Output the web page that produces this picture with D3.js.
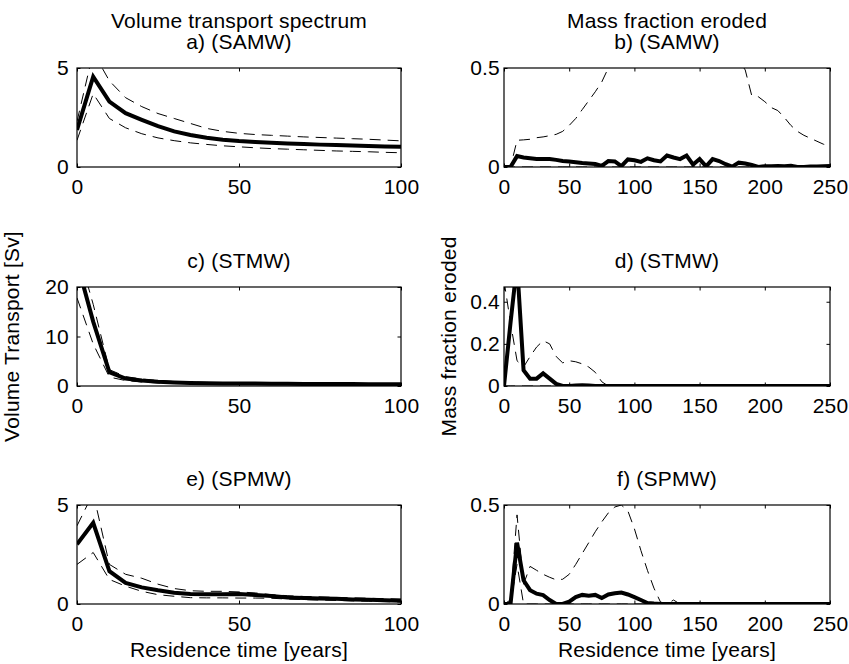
<!DOCTYPE html>
<html>
<head>
<meta charset="utf-8">
<style>
  body { margin: 0; background: #fff; }
  svg text { font-family: "Liberation Sans", Arial, Helvetica, sans-serif; font-size: 21px; fill: #000; letter-spacing: 0.2px; }
</style>
</head>
<body>
<div id="chart"></div>
<script src="https://d3js.org/d3.v7.min.js"></script>
<script>
// residence time (years)
const yearsShort = [0, 5, 10, 15, 20, 25, 30, 35, 40, 45, 50, 55, 60, 65, 70, 75, 80, 85, 90, 95, 100];
const yearsLong = [0, 5, 10, 15, 20, 25, 30, 35, 40, 45, 50, 55, 60, 65, 70, 75, 80, 85, 90, 95,
  100, 105, 110, 115, 120, 125, 130, 135, 140, 145, 150, 155, 160, 165, 170, 175, 180, 185, 190, 195,
  200, 205, 210, 215, 220, 225, 230, 235, 240, 245, 250];

// a) SAMW volume transport [Sv]
const samwTransport = [1.87, 4.56, 3.3, 2.72, 2.38, 2.06, 1.8, 1.62, 1.48, 1.38, 1.31, 1.26, 1.22, 1.19, 1.16, 1.13, 1.11, 1.09, 1.06, 1.04, 1.02];
const samwTransportHi = [2.3, 5.8, 4.35, 3.5, 3.05, 2.7, 2.45, 2.2, 1.95, 1.8, 1.7, 1.64, 1.6, 1.56, 1.52, 1.49, 1.46, 1.43, 1.4, 1.36, 1.32];
const samwTransportLo = [1.35, 3.7, 2.45, 1.98, 1.68, 1.47, 1.33, 1.22, 1.14, 1.07, 1.02, 0.97, 0.93, 0.9, 0.87, 0.84, 0.81, 0.79, 0.77, 0.74, 0.72];

// c) STMW volume transport [Sv]
const stmwTransport = [25, 13, 2.8, 1.5, 1.1, 0.85, 0.7, 0.62, 0.57, 0.53, 0.5, 0.48, 0.46, 0.44, 0.42, 0.41, 0.4, 0.38, 0.37, 0.36, 0.35];
const stmwTransportHi = [28, 16.5, 3.3, 1.9, 1.4, 1.1, 0.9, 0.8, 0.72, 0.67, 0.63, 0.6, 0.57, 0.55, 0.53, 0.51, 0.5, 0.48, 0.47, 0.46, 0.45];
const stmwTransportLo = [17.8, 8.5, 1.8, 1.1, 0.8, 0.62, 0.52, 0.46, 0.42, 0.39, 0.37, 0.35, 0.33, 0.32, 0.3, 0.29, 0.28, 0.27, 0.26, 0.25, 0.24];

// e) SPMW volume transport [Sv]
const spmwTransport = [3.02, 4.1, 1.66, 1.07, 0.84, 0.69, 0.57, 0.51, 0.49, 0.49, 0.5, 0.46, 0.4, 0.33, 0.3, 0.28, 0.26, 0.23, 0.21, 0.19, 0.17];
const spmwTransportHi = [3.95, 5.6, 2.0, 1.5, 1.3, 1.0, 0.78, 0.67, 0.64, 0.64, 0.61, 0.56, 0.47, 0.42, 0.38, 0.36, 0.33, 0.31, 0.29, 0.27, 0.25];
const spmwTransportLo = [2.0, 2.6, 1.24, 0.9, 0.64, 0.47, 0.39, 0.32, 0.31, 0.31, 0.3, 0.3, 0.29, 0.25, 0.22, 0.2, 0.18, 0.16, 0.14, 0.12, 0.1];

// b) SAMW mass fraction eroded
const samwEroded = [0, 0, 0.055, 0.048, 0.044, 0.04, 0.04, 0.04, 0.036, 0.03,
  0.028, 0.024, 0.02, 0.018, 0.015, 0.006, 0.03, 0.028, 0.004, 0.038,
  0.034, 0.026, 0.044, 0.034, 0.028, 0.058, 0.048, 0.04, 0.058, 0.012,
  0.04, 0.003, 0.04, 0.03, 0.014, 0.002, 0.022, 0.018, 0.01, 0,
  0.004, 0.004, 0.005, 0.004, 0.006, 0, 0, 0.002, 0.003, 0.004, 0.005];
const samwErodedHi = [0, 0, 0.135, 0.137, 0.14, 0.148, 0.152, 0.158, 0.165, 0.18,
  0.21, 0.245, 0.29, 0.335, 0.38, 0.43, 0.5, 0.58, 0.65, 0.7,
  0.74, 0.76, 0.78, 0.78, 0.77, 0.76, 0.74, 0.72, 0.7, 0.68,
  0.66, 0.64, 0.62, 0.6, 0.58, 0.56, 0.54, 0.49, 0.36, 0.355,
  0.33, 0.3, 0.285, 0.25, 0.21, 0.18, 0.16, 0.145, 0.13, 0.115, 0.105];
const samwErodedLo = [0, 0, 0, 0, 0, 0, 0, 0, 0, 0, 0, 0, 0, 0, 0, 0, 0, 0, 0, 0,
  0, 0, 0, 0, 0, 0, 0, 0, 0, 0, 0, 0, 0, 0, 0, 0, 0, 0, 0, 0,
  0, 0, 0, 0, 0, 0, 0, 0, 0, 0, 0];

// d) STMW mass fraction eroded
const stmwEroded = [0, 0.3, 0.58, 0.075, 0.035, 0.035, 0.06, 0.035, 0.01, 0,
  0, 0.002, 0.004, 0.002, 0, 0, 0, 0, 0, 0,
  0, 0, 0, 0, 0, 0, 0, 0, 0, 0, 0, 0, 0, 0, 0, 0, 0, 0, 0, 0,
  0, 0, 0, 0, 0, 0, 0, 0, 0, 0, 0];
const stmwErodedHi = [0.5, 0.3, 0.12, 0.09, 0.14, 0.185, 0.215, 0.2, 0.14, 0.11,
  0.12, 0.115, 0.105, 0.09, 0.065, 0.02, 0, 0, 0, 0,
  0, 0, 0, 0, 0, 0, 0, 0, 0, 0, 0, 0, 0, 0, 0, 0, 0, 0, 0, 0,
  0, 0, 0, 0, 0, 0, 0, 0, 0, 0, 0];
const stmwErodedLo = samwErodedLo.slice();

// f) SPMW mass fraction eroded
const spmwEroded = [0, 0, 0.31, 0.12, 0.07, 0.052, 0.045, 0.02, 0, 0,
  0.012, 0.035, 0.046, 0.042, 0.046, 0.03, 0.048, 0.054, 0.058, 0.048,
  0.035, 0.02, 0.005, 0.002, 0, 0, 0, 0, 0, 0,
  0, 0, 0, 0, 0, 0, 0, 0, 0, 0, 0, 0, 0, 0, 0, 0, 0, 0, 0, 0, 0];
const spmwErodedHi = [0, 0.02, 0.45, 0.1, 0.19, 0.17, 0.15, 0.135, 0.122, 0.125,
  0.15, 0.2, 0.255, 0.31, 0.365, 0.415, 0.46, 0.49, 0.5, 0.47,
  0.38, 0.27, 0.17, 0.08, 0.01, 0, 0.02, 0, 0, 0,
  0, 0, 0, 0, 0, 0, 0, 0, 0, 0, 0, 0, 0, 0, 0, 0, 0, 0, 0, 0, 0];
const spmwErodedLo = [0, 0, 0.2, 0, 0, 0, 0, 0, 0, 0, 0, 0, 0, 0, 0, 0, 0, 0, 0, 0,
  0, 0, 0, 0, 0, 0, 0, 0, 0, 0, 0, 0, 0, 0, 0, 0, 0, 0, 0, 0,
  0, 0, 0, 0, 0, 0, 0, 0, 0, 0, 0];

const ticksShortX = [0, 50, 100];
const ticksLongX = [0, 50, 100, 150, 200, 250];

const width = 849, height = 664;

const svg = d3.select("#chart").append("svg")
  .attr("width", width)
  .attr("height", height)
  .style("background-color", "#fff");

// panel layout (pixels)
const colX = [{ left: 77, right: 401, pad: 8 }, { left: 504, right: 830, pad: 4 }];
const rowY = [{ top: 68, bottom: 167 }, { top: 287, bottom: 386 }, { top: 505, bottom: 604 }];

const panels = [
  { col: 0, row: 0, title: "a) (SAMW)", years: yearsShort, xMax: 100, xTicks: ticksShortX, yMax: 5, yTicks: [0, 5], mid: samwTransport, hi: samwTransportHi, lo: samwTransportLo },
  { col: 1, row: 0, title: "b) (SAMW)", years: yearsLong, xMax: 250, xTicks: ticksLongX, yMax: 0.5, yTicks: [0, 0.5], mid: samwEroded, hi: samwErodedHi, lo: samwErodedLo },
  { col: 0, row: 1, title: "c) (STMW)", years: yearsShort, xMax: 100, xTicks: ticksShortX, yMax: 20, yTicks: [0, 10, 20], mid: stmwTransport, hi: stmwTransportHi, lo: stmwTransportLo },
  { col: 1, row: 1, title: "d) (STMW)", years: yearsLong, xMax: 250, xTicks: ticksLongX, yMax: 0.47, yTicks: [0, 0.2, 0.4], mid: stmwEroded, hi: stmwErodedHi, lo: stmwErodedLo },
  { col: 0, row: 2, title: "e) (SPMW)", years: yearsShort, xMax: 100, xTicks: ticksShortX, yMax: 5, yTicks: [0, 5], mid: spmwTransport, hi: spmwTransportHi, lo: spmwTransportLo },
  { col: 1, row: 2, title: "f) (SPMW)", years: yearsLong, xMax: 250, xTicks: ticksLongX, yMax: 0.5, yTicks: [0, 0.5], mid: spmwEroded, hi: spmwErodedHi, lo: spmwErodedLo }
];

const tickLen = 3.5;
const fmt = d3.format("~g");

panels.forEach((p, i) => {
  const c = colX[p.col], r = rowY[p.row];
  const w = c.right - c.left, h = r.bottom - r.top;

  const x = d3.scaleLinear().domain([0, p.xMax]).range([0, w]);
  const y = d3.scaleLinear().domain([0, p.yMax]).range([h, 0]);

  const g = svg.append("g").attr("transform", `translate(${c.left},${r.top})`);

  g.append("clipPath").attr("id", "clip" + i)
    .append("rect").attr("width", w).attr("height", h);

  // axes (ticks point inward, like matlab)
  const bottom = g.append("g").attr("transform", `translate(0,${h})`)
    .call(d3.axisBottom(x).tickValues(p.xTicks).tickFormat(fmt)
      .tickSizeInner(-tickLen).tickSizeOuter(0).tickPadding(12));
  const top = g.append("g")
    .call(d3.axisTop(x).tickValues(p.xTicks).tickFormat("")
      .tickSizeInner(-tickLen).tickSizeOuter(0));
  const left = g.append("g")
    .call(d3.axisLeft(y).tickValues(p.yTicks).tickFormat(fmt)
      .tickSizeInner(-tickLen).tickSizeOuter(0).tickPadding(c.pad));
  const right = g.append("g").attr("transform", `translate(${w},0)`)
    .call(d3.axisRight(y).tickValues(p.yTicks).tickFormat("")
      .tickSizeInner(-tickLen).tickSizeOuter(0));

  [bottom, top, left, right].forEach(a => {
    a.select(".domain").remove();
    a.selectAll("line").attr("stroke", "#000").attr("stroke-width", 1);
    a.selectAll("text").attr("font-size", null).attr("font-family", null).attr("fill", "#000");
  });

  const line = d3.line()
    .x((d, j) => x(p.years[j]))
    .y(d => y(d));

  const plot = g.append("g").attr("clip-path", `url(#clip${i})`);

  [p.lo, p.hi].forEach(series => {
    plot.append("path")
      .datum(series)
      .attr("d", line)
      .attr("fill", "none")
      .attr("stroke", "#000")
      .attr("stroke-width", 1)
      .attr("stroke-dasharray", "11,7");
  });

  plot.append("path")
    .datum(p.mid)
    .attr("d", line)
    .attr("fill", "none")
    .attr("stroke", "#000")
    .attr("stroke-width", 4)
    .attr("stroke-linejoin", "miter");

  // box
  g.append("rect")
    .attr("width", w).attr("height", h)
    .attr("fill", "none")
    .attr("stroke", "#000")
    .attr("stroke-width", 1.2);

  // panel title
  svg.append("text")
    .attr("x", (c.left + c.right) / 2)
    .attr("y", r.top - 19)
    .attr("text-anchor", "middle")
    .text(p.title);

  if (p.row === 2) {
    svg.append("text")
      .attr("x", (c.left + c.right) / 2)
      .attr("y", r.bottom + 53)
      .attr("text-anchor", "middle")
      .text("Residence time [years]");
  }
});

// column headings
svg.append("text")
  .attr("x", (colX[0].left + colX[0].right) / 2)
  .attr("y", 27.5)
  .attr("text-anchor", "middle")
  .text("Volume transport spectrum");

svg.append("text")
  .attr("x", (colX[1].left + colX[1].right) / 2)
  .attr("y", 27.5)
  .attr("text-anchor", "middle")
  .text("Mass fraction eroded");

// y labels
const midY = (rowY[1].top + rowY[1].bottom) / 2;
svg.append("text")
  .attr("transform", `translate(19,${midY}) rotate(-90)`)
  .attr("text-anchor", "middle")
  .text("Volume Transport [Sv]");

svg.append("text")
  .attr("transform", `translate(456,${midY}) rotate(-90)`)
  .attr("text-anchor", "middle")
  .text("Mass fraction eroded");
</script>
</body>
</html>
